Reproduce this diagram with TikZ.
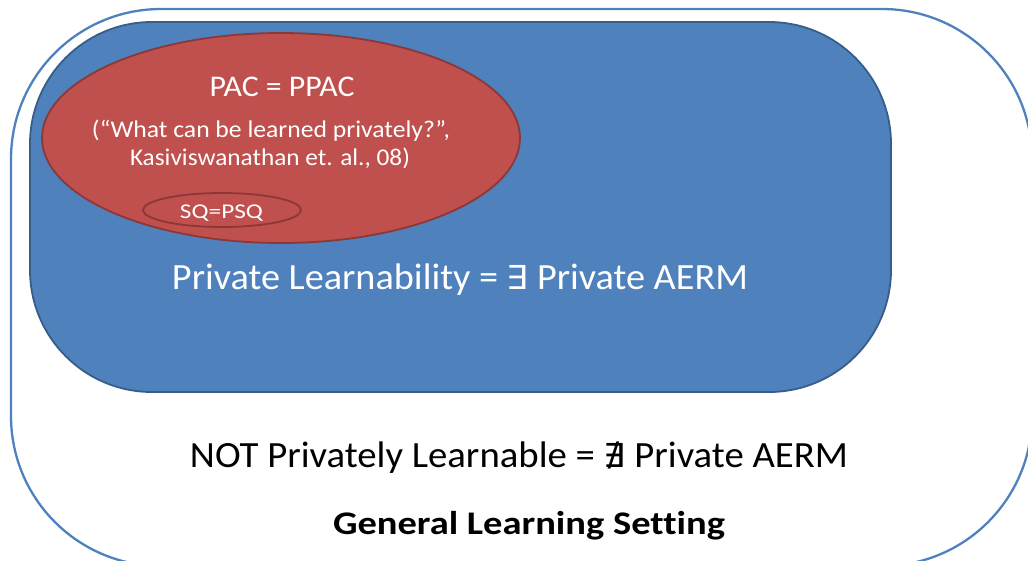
\documentclass[tikz,border=0pt]{standalone}
\usepackage{graphicx}
\usepackage{fontspec}
\usetikzlibrary{shapes.geometric}
\setmainfont{Carlito}[Ligatures=CommonOff]
\newfontfamily\symfont{DejaVu Sans}
\newcommand{\stretchto}[2]{\resizebox{#1}{\height}{#2}}
\definecolor{outerblue}{HTML}{4F81BD}
\definecolor{fillblue}{HTML}{4F81BD}
\definecolor{darkblue}{HTML}{385D8A}
\definecolor{fillred}{HTML}{C0504D}
\definecolor{darkred}{HTML}{8C3836}
\tikzset{
  lbl/.style={inner sep=0pt, anchor=base},
  whitetxt/.style={lbl, text=white},
  redell/.style={ellipse, draw=darkred, line width=1.8pt, inner sep=0pt},
}
\begin{document}
\begin{tikzpicture}[x=1pt,y=-1pt]
\useasboundingbox (0,0) rectangle (1028,560);
\clip (0,0) rectangle (1028,560);
% outer general learning setting
\draw[outerblue, line width=2.3pt, rounded corners=150pt] (11,9) rectangle (1032,566);
% private learnability
\draw[darkblue, fill=fillblue, line width=1.8pt, rounded corners=122pt] (30,22) rectangle (891,392);
% PAC ellipse
\node[redell, fill=fillred, minimum width=478pt, minimum height=210pt] (pacell) at (281,138) {};
\node[redell, minimum width=158pt, minimum height=34pt] (sqell) at (222,210) {};
\node[whitetxt, font=\fontsize{21}{24}\selectfont] (sqt) at (221.5,218) {\stretchto{83pt}{SQ=PSQ}};
\node[whitetxt, font=\fontsize{30}{34}\selectfont] (pac) at (282,96) {\stretchto{145pt}{PAC = PPAC}};
\node[whitetxt, font=\fontsize{24}{28}\selectfont] (ref1) at (271,137) {\stretchto{358pt}{(“What can be learned privately?”,}};
\node[whitetxt, font=\fontsize{24}{28}\selectfont] (ref2) at (270,165) {\stretchto{280pt}{Kasiviswanathan et. al., 08)}};
\node[whitetxt, font=\fontsize{37}{42}\selectfont] (pl) at (460,289) {\stretchto{576pt}{Private Learnability = {\symfont\fontsize{33}{38}\selectfont ∃} Private AERM}};
\node[lbl, font=\fontsize{37}{42}\selectfont] (npl) at (519,467) {\stretchto{658pt}{NOT Privately Learnable = {\symfont\fontsize{33}{38}\selectfont ∄} Private AERM}};
\node[lbl, font=\bfseries\fontsize{33}{38}\selectfont] (gls) at (529,534) {\stretchto{392pt}{General Learning Setting}};
\end{tikzpicture}
\end{document}
